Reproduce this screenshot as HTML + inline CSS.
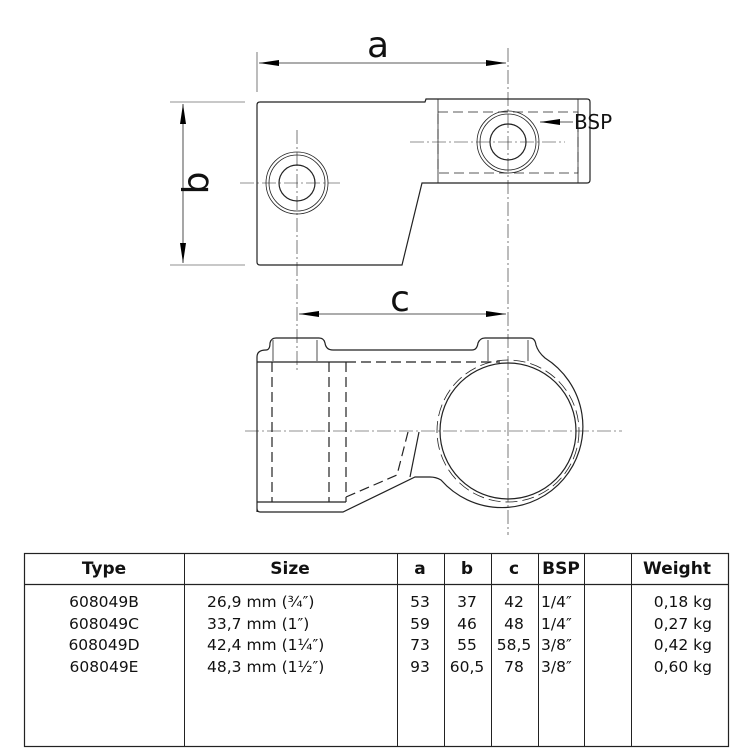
<!DOCTYPE html>
<html><head><meta charset="utf-8"><style>
html,body{margin:0;padding:0;background:#fff;}
svg{display:block;}
text{font-family:"DejaVu Sans","Liberation Sans",sans-serif;}
</style></head><body>
<svg width="750" height="750" viewBox="0 0 750 750" xmlns="http://www.w3.org/2000/svg">
<defs>
<marker id="ar" viewBox="0 0 20 8" refX="20" refY="4" markerWidth="20" markerHeight="8" orient="auto-start-reverse" markerUnits="userSpaceOnUse"><path d="M0,1 L20,4 L0,7 Z" fill="#000"/></marker>
</defs>
<g fill="none" stroke="#222" stroke-width="1.2">
<!-- top view -->
<path d="M260,102 L425,102 L426,99 L587,99 Q590,99 590,102 L590,180 Q590,183 587,183 L422,183 L402,265 L260,265 Q257,265 257,262 L257,105 Q257,102 260,102 Z"/>
<line x1="438" y1="99" x2="438" y2="183" stroke-width="0.8"/>
<line x1="578" y1="99" x2="578" y2="183" stroke-width="0.8"/>
<rect x="438" y="112" width="140" height="61" stroke-dasharray="10,5" stroke-width="0.8"/>
<circle cx="297" cy="183" r="31" stroke-width="0.8"/><circle cx="297" cy="183" r="28" stroke-width="0.8"/><circle cx="297" cy="183" r="18"/>
<circle cx="508" cy="142" r="31" stroke-width="0.8"/><circle cx="508" cy="142" r="28" stroke-width="0.8"/><circle cx="508" cy="142" r="18"/>
<g stroke-width="0.6" stroke-dasharray="14,3,2,3">
<line x1="240" y1="183" x2="340" y2="183"/><line x1="297" y1="130" x2="297" y2="285"/>
<line x1="410" y1="142" x2="565" y2="142"/><line x1="508" y1="48" x2="508" y2="535"/>
<line x1="297" y1="285" x2="297" y2="372"/>
<line x1="245" y1="431" x2="622" y2="431"/>
</g>
<!-- dims -->
<line x1="257" y1="52" x2="257" y2="92" stroke-width="0.6"/>
<line x1="259" y1="63" x2="506" y2="63" stroke-width="0.8" marker-start="url(#ar)" marker-end="url(#ar)"/>
<line x1="170" y1="102" x2="245" y2="102" stroke-width="0.6"/>
<line x1="170" y1="265" x2="245" y2="265" stroke-width="0.6"/>
<line x1="183" y1="104" x2="183" y2="263" stroke-width="0.8" marker-start="url(#ar)" marker-end="url(#ar)"/>
<line x1="299" y1="314" x2="506" y2="314" stroke-width="0.8" marker-start="url(#ar)" marker-end="url(#ar)"/>
<line x1="573" y1="122" x2="540" y2="122" stroke-width="0.8" marker-end="url(#ar)"/>
<!-- side view -->
<path d="M257,512 L257,357 Q257,350 266,350 Q270,350 270,343 Q271,338 276,338 L319,338 Q324,338 325,343 Q326,350 333,350 L472,350 Q477,350 478,343 Q480,338 485,338 L530,338 Q535,338 536,345 Q538,352 545,358 A81,81 0 1 1 441,480 Q436,477 430,477 L415,477 L343,512 L260,512 Q257,512 257,508"/>
<line x1="273" y1="340" x2="273" y2="361" stroke-width="0.8"/><line x1="317" y1="340" x2="317" y2="361" stroke-width="0.8"/>
<line x1="488" y1="340" x2="488" y2="361" stroke-width="0.8"/><line x1="528" y1="340" x2="528" y2="361" stroke-width="0.8"/>
<line x1="257" y1="362" x2="346" y2="362"/>
<line x1="346" y1="362" x2="346" y2="502" stroke-dasharray="10,5"/>
<line x1="257" y1="502" x2="346" y2="502"/>
<line x1="346" y1="362" x2="500" y2="362" stroke-dasharray="10,5"/>
<line x1="272" y1="362" x2="272" y2="502" stroke-dasharray="10,5"/>
<line x1="329" y1="362" x2="329" y2="502" stroke-dasharray="10,5"/>
<polyline points="346,497 397,475 408,432" stroke-dasharray="10,5"/>
<polyline points="419,432 410,477"/>
<circle cx="508" cy="431" r="68"/>
<circle cx="508" cy="431" r="71" stroke-dasharray="12,5" stroke-width="0.8"/>
<!-- table -->
<rect x="24.5" y="553.5" width="704" height="193" stroke-width="1.2"/>
<line x1="24" y1="584.5" x2="729" y2="584.5"/>
<g stroke-width="1">
<line x1="184.5" y1="553" x2="184.5" y2="747"/><line x1="397.5" y1="553" x2="397.5" y2="747"/>
<line x1="444.5" y1="553" x2="444.5" y2="747"/><line x1="491.5" y1="553" x2="491.5" y2="747"/>
<line x1="538.5" y1="553" x2="538.5" y2="747"/><line x1="584.5" y1="553" x2="584.5" y2="747"/>
<line x1="631.5" y1="553" x2="631.5" y2="747"/>
</g>
</g>
<g fill="#111">
<text x="378" y="57" font-size="36" text-anchor="middle" font-family="Liberation Sans">a</text>
<text x="400" y="311" font-size="36" text-anchor="middle" font-family="Liberation Sans">c</text>
<text transform="translate(208,183) rotate(-90)" font-size="36" text-anchor="middle" font-family="Liberation Sans">b</text>
<text x="574" y="129" font-size="20" font-family="Liberation Sans">BSP</text>
<g font-size="17" font-weight="bold" text-anchor="middle">
<text x="104" y="574">Type</text><text x="290" y="574">Size</text><text x="420" y="574">a</text><text x="467" y="574">b</text><text x="514" y="574">c</text><text x="561" y="574">BSP</text><text x="677" y="574">Weight</text>
</g>
<g font-size="15.5">
<g text-anchor="middle"><text x="104" y="607">608049B</text><text x="104" y="629">608049C</text><text x="104" y="650">608049D</text><text x="104" y="672">608049E</text></g>
<text x="207" y="607">26,9 mm (¾″)</text><text x="207" y="629">33,7 mm (1″)</text><text x="207" y="650">42,4 mm (1¼″)</text><text x="207" y="672">48,3 mm (1½″)</text>
<g text-anchor="middle"><text x="420" y="607">53</text><text x="420" y="629">59</text><text x="420" y="650">73</text><text x="420" y="672">93</text>
<text x="467" y="607">37</text><text x="467" y="629">46</text><text x="467" y="650">55</text><text x="467" y="672">60,5</text>
<text x="514" y="607">42</text><text x="514" y="629">48</text><text x="514" y="650">58,5</text><text x="514" y="672">78</text></g>
<text x="541" y="607">1/4″</text><text x="541" y="629">1/4″</text><text x="541" y="650">3/8″</text><text x="541" y="672">3/8″</text>
<g text-anchor="end"><text x="712" y="607">0,18 kg</text><text x="712" y="629">0,27 kg</text><text x="712" y="650">0,42 kg</text><text x="712" y="672">0,60 kg</text></g>
</g>
</g>
</svg>
</body></html>
